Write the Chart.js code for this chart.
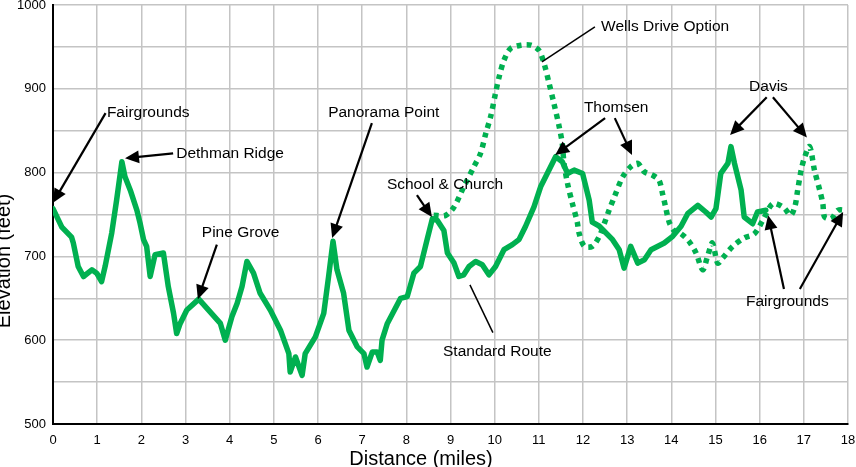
<!DOCTYPE html>
<html>
<head>
<meta charset="utf-8">
<script src="https://cdn.jsdelivr.net/npm/chart.js@4.4.1/dist/chart.umd.min.js"></script>
<style>
  html, body { margin: 0; padding: 0; background: #fff; }
  #wrap { width: 856px; height: 467px; position: relative; }
</style>
</head>
<body>
<div id="wrap"><canvas id="myChart"></canvas></div>
<script>
// standard route (miles, feet)
var standardMiles = [0, 0.2, 0.42, 0.46, 0.57, 0.69, 0.88, 0.99, 1.1, 1.18, 1.33, 1.44, 1.56, 1.63, 1.75, 1.9, 1.97, 2.05, 2.12, 2.2,
  2.31, 2.5, 2.61, 2.73, 2.8, 2.88, 3.03, 3.3, 3.79, 3.9, 4.05, 4.17, 4.28, 4.39, 4.54, 4.69, 4.92, 5.15, 5.34, 5.37,
  5.49, 5.64, 5.71, 5.94, 6.13, 6.24, 6.34, 6.43, 6.58, 6.7, 6.89, 7.04, 7.11, 7.23, 7.34, 7.41, 7.45, 7.57, 7.87, 8.02,
  8.17, 8.32, 8.47, 8.59, 8.7, 8.85, 8.93, 9.08, 9.19, 9.3, 9.42, 9.57, 9.72, 9.87, 10.02, 10.21, 10.4, 10.55, 10.7, 10.89,
  11.04, 11.23, 11.38, 11.53, 11.65, 11.8, 11.99, 12.14, 12.21, 12.37, 12.67, 12.82, 12.93, 13.08, 13.24, 13.39, 13.54, 13.84, 14.03, 14.22,
  14.37, 14.6, 14.78, 14.9, 15.01, 15.12, 15.28, 15.35, 15.43, 15.58, 15.65, 15.84, 15.95, 16.14];
var standardFeet = [757, 735, 723, 716, 688, 676, 684, 680, 670, 688, 728, 767, 813, 795, 779, 755, 740, 720, 712, 676,
  702, 704, 664, 632, 608, 620, 636, 649, 620, 600, 628, 644, 664, 694, 680, 656, 636, 612, 584, 562,
  580, 558, 584, 604, 632, 676, 718, 684, 656, 612, 592, 584, 568, 586, 586, 576, 600, 620, 650, 652,
  680, 688, 720, 745, 743, 731, 704, 692, 676, 678, 688, 694, 690, 678, 688, 708, 714, 720, 736, 759,
  783, 803, 819, 813, 799, 803, 799, 767, 741, 736, 720, 708, 686, 712, 692, 696, 708, 716, 724, 736,
  751, 761, 753, 747, 757, 799, 811, 831, 811, 779, 747, 739, 753, 755];

// wells drive option
var wellsMiles = [8.62, 8.89, 9.08, 9.3, 9.53, 9.68, 9.8, 9.91, 10.02, 10.1, 10.21, 10.36, 10.59, 10.82, 11.0, 11.12, 11.23, 11.34, 11.46, 11.53,
  11.57, 11.65, 11.76, 11.87, 11.91, 12.03, 12.21, 12.37, 12.48, 12.59, 12.71, 12.9, 13.08, 13.24, 13.39, 13.57, 13.72, 13.8, 13.87, 13.95,
  14.06, 14.22, 14.4, 14.56, 14.71, 14.82, 14.93, 15.05, 15.16, 15.39, 15.65, 15.88, 16.07, 16.3, 16.55, 16.7, 16.8, 16.86, 16.94, 17.01,
  17.13, 17.24, 17.36, 17.43, 17.47, 17.62, 17.77, 17.96];
var wellsFeet = [749, 749, 759, 783, 807, 823, 847, 867, 895, 914, 934, 948, 952, 952, 946, 930, 907, 883, 855, 835,
  811, 787, 763, 741, 728, 712, 712, 724, 739, 755, 771, 795, 807, 811, 801, 797, 791, 775, 759, 741,
  731, 727, 718, 704, 684, 700, 716, 692, 698, 712, 722, 727, 743, 763, 758, 749, 760, 779, 803, 817,
  831, 803, 779, 763, 747, 745, 755, 755];

var xTicks = [0, 18, 1];      // min, max, step
var yTicks = [500, 1000, 50]; // labels every 100

// labels: text, x, y, then lines [x1, y1, x2, y2, head]
var notes = [
  { text: 'Fairgrounds', x: 1.22, y: 871, lines: [[1.19, 871, 0.0, 764, true]] },
  { text: 'Dethman Ridge', x: 2.79, y: 822, lines: [[2.72, 823, 1.63, 817, true]] },
  { text: 'Pine Grove', x: 3.37, y: 728, lines: [[3.71, 714, 3.28, 649, true]] },
  { text: 'Panorama Point', x: 6.23, y: 872, lines: [[7.22, 859, 6.32, 722, true]] },
  { text: 'School & Church', x: 7.56, y: 785, lines: [[8.24, 773, 8.58, 747, true]] },
  { text: 'Wells Drive Option', x: 12.41, y: 974, lines: [[12.27, 974, 11.07, 932, false]] },
  { text: 'Thomsen', x: 12.02, y: 877, lines: [[12.5, 865, 11.37, 821, true], [12.72, 865, 13.11, 821, true]] },
  { text: 'Davis', x: 15.76, y: 902, lines: [[16.16, 890, 15.33, 845, true], [16.3, 890, 17.07, 842, true]] },
  { text: 'Standard Route', x: 8.83, y: 586, lines: [[9.96, 609, 9.44, 666, false]] },
  { text: 'Fairgrounds', x: 15.69, y: 646, lines: [[16.55, 661, 16.19, 749, true], [16.91, 661, 17.89, 753, true]] }
];

var green = 'rgb(0,176,80)';

function toPoints(xs, ys) {
  var out = [];
  for (var i = 0; i < xs.length; i++) out.push({ x: xs[i], y: ys[i] });
  return out;
}

var notesPlugin = {
  id: 'notes',
  afterDatasetsDraw: function (chart) {
    var ctx = chart.ctx;
    var sx = chart.scales.x, sy = chart.scales.y;
    ctx.save();
    ctx.fillStyle = '#000';
    ctx.strokeStyle = '#000';
    ctx.font = '15.5px "Liberation Sans", Arial, sans-serif';
    ctx.textBaseline = 'middle';
    ctx.textAlign = 'left';
    notes.forEach(function (n) {
      ctx.fillText(n.text, sx.getPixelForValue(n.x), sy.getPixelForValue(n.y));
      n.lines.forEach(function (l) {
        var x1 = sx.getPixelForValue(l[0]), y1 = sy.getPixelForValue(l[1]);
        var x2 = sx.getPixelForValue(l[2]), y2 = sy.getPixelForValue(l[3]);
        var a = Math.atan2(y2 - y1, x2 - x1);
        var len = 14, half = 6.5;
        var ex = l[4] ? x2 - Math.cos(a) * len * 0.8 : x2;
        var ey = l[4] ? y2 - Math.sin(a) * len * 0.8 : y2;
        ctx.lineWidth = l[4] ? 2.2 : 1.5;
        ctx.beginPath();
        ctx.moveTo(x1, y1);
        ctx.lineTo(ex, ey);
        ctx.stroke();
        if (l[4]) {
          var bx = x2 - Math.cos(a) * len, by = y2 - Math.sin(a) * len;
          ctx.beginPath();
          ctx.moveTo(x2, y2);
          ctx.lineTo(bx + Math.sin(a) * half, by - Math.cos(a) * half);
          ctx.lineTo(bx - Math.sin(a) * half, by + Math.cos(a) * half);
          ctx.closePath();
          ctx.fill();
        }
      });
    });

    // axis titles
    ctx.font = '20px "Liberation Sans", Arial, sans-serif';
    ctx.textAlign = 'center';
    ctx.textBaseline = 'alphabetic';
    ctx.fillText('Distance (miles)', 421, 465);
    ctx.translate(10, 261);
    ctx.rotate(-Math.PI / 2);
    ctx.fillText('Elevation (feet)', 0, 0);
    ctx.restore();
  }
};

function myLoadFunction() {
  const ctx = document.getElementById('myChart').getContext('2d');
  var config = {
    type: 'line',
    data: {
      datasets: [{
        label: 'Standard Route',
        data: toPoints(standardMiles, standardFeet),
        borderColor: green,
        borderWidth: 5.5,
        pointRadius: 0,
        tension: 0,
        borderJoinStyle: 'round',
        borderCapStyle: 'round',
        fill: false
      }, {
        label: 'Wells Drive Option',
        data: toPoints(wellsMiles, wellsFeet),
        borderColor: green,
        borderWidth: 5.5,
        borderDash: [5, 5],
        pointRadius: 0,
        tension: 0.3,
        fill: false
      }]
    },
    options: {
      responsive: true,
      maintainAspectRatio: false,
      animation: false,
      layout: { autoPadding: false, padding: { left: 0, right: 8, top: 5, bottom: 0 } },
      plugins: { legend: { display: false }, tooltip: { enabled: false } },
      scales: {
        x: {
          type: 'linear',
          min: xTicks[0],
          max: xTicks[1],
          afterFit: function (s) { s.height = 43; s.paddingLeft = 0; s.paddingRight = 0; },
          ticks: { stepSize: xTicks[2], color: '#000', padding: 9, maxRotation: 0,
            font: { family: '"Liberation Sans", Arial, sans-serif', size: 13 } },
          grid: { color: '#c4c4c4', lineWidth: 1.5, drawTicks: false },
          border: { color: '#000', width: 2 }
        },
        y: {
          min: yTicks[0],
          max: yTicks[1],
          afterFit: function (s) { s.width = 53; s.paddingTop = 0; s.paddingBottom = 0; },
          ticks: {
            stepSize: yTicks[2], color: '#000', padding: 7,
            font: { family: '"Liberation Sans", Arial, sans-serif', size: 13 },
            callback: function (v) { return v % 100 === 0 ? v : ''; }
          },
          grid: { color: '#c4c4c4', lineWidth: 1.5, drawTicks: false },
          border: { color: '#000', width: 2 }
        }
      }
    },
    plugins: [notesPlugin]
  };
  const myChart = new Chart(ctx, config);
}

document.addEventListener('DOMContentLoaded', myLoadFunction);
</script>
</body>
</html>
